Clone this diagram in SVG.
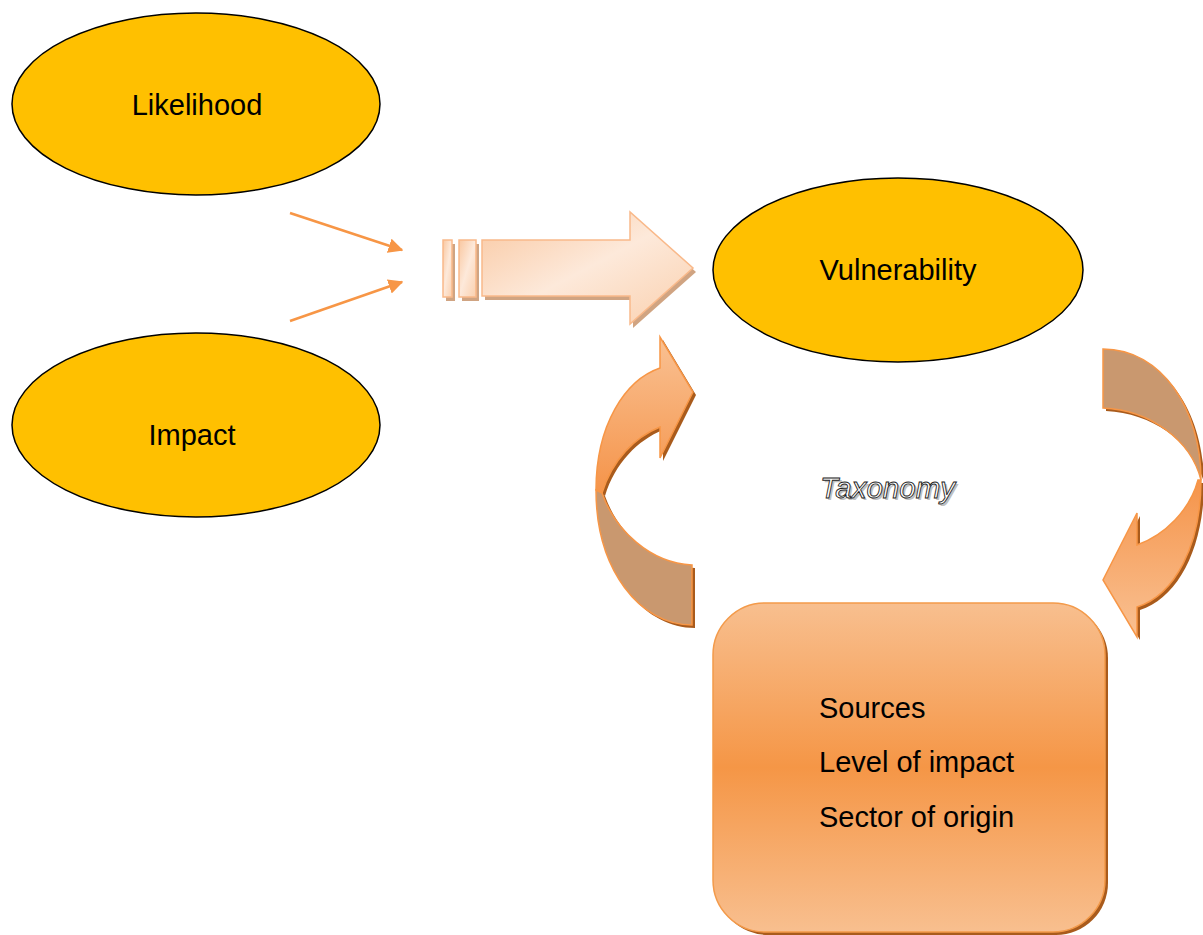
<svg xmlns="http://www.w3.org/2000/svg" width="1203" height="935" viewBox="0 0 1203 935">
<defs>
<style>
.ell{fill:#ffc000;stroke:#000;stroke-width:1.5}
.lbl{font-family:"Liberation Sans",Arial,sans-serif;font-size:29px;fill:#000}
.thin{stroke:#f79646;stroke-width:2.5;fill:none}
.orange{stroke:#f79646;stroke-width:1.5}
.brown{fill:#c9986f;stroke:#f79646;stroke-width:1.5}
.shd{fill:#a95b1c}
</style>
<marker id="ah" viewBox="0 0 10 10" refX="9" refY="5" markerWidth="6" markerHeight="6" orient="auto" markerUnits="strokeWidth">
<path d="M0,0 L10,5 L0,10 Z" fill="#f79646"/>
</marker>
<linearGradient id="bigG" x1="0" y1="0" x2="1" y2="1">
<stop offset="0" stop-color="#f9c7a0"/>
<stop offset="0.5" stop-color="#fde9da"/>
<stop offset="1" stop-color="#fad0ae"/>
</linearGradient>
<linearGradient id="lG" x1="0" y1="0" x2="0" y2="1">
<stop offset="0" stop-color="#f9c193"/>
<stop offset="1" stop-color="#f5944a"/>
</linearGradient>
<linearGradient id="rG" x1="0" y1="0" x2="0" y2="1">
<stop offset="0" stop-color="#f5944a"/>
<stop offset="1" stop-color="#f9c193"/>
</linearGradient>
<linearGradient id="boxG" x1="0" y1="0" x2="0" y2="1">
<stop offset="0" stop-color="#f8bf8f"/>
<stop offset="0.5" stop-color="#f59646"/>
<stop offset="1" stop-color="#f8bf8f"/>
</linearGradient>
</defs>

<g id="likelihood">
<ellipse class="ell" cx="196" cy="104" rx="184" ry="91"/>
<text class="lbl" x="197" y="115" text-anchor="middle">Likelihood</text>
</g>
<g id="impact">
<ellipse class="ell" cx="196" cy="425" rx="184" ry="92"/>
<text class="lbl" x="192" y="445" text-anchor="middle">Impact</text>
</g>
<g id="vulnerability">
<ellipse class="ell" cx="898" cy="270" rx="185" ry="92"/>
<text class="lbl" x="898" y="280" text-anchor="middle">Vulnerability</text>
</g>

<g id="big-arrow">
<g fill="#d0a482" transform="translate(3,4)">
<rect x="443" y="240" width="9" height="57"/>
<rect x="459" y="240" width="17" height="57"/>
<path d="M482,240 L630,240 L630,212 L693,268 L630,324 L630,296 L482,296 Z"/>
</g>
<g fill="url(#bigG)" stroke="#f9b98a" stroke-width="1.5">
<rect x="443" y="240" width="9" height="57"/>
<rect x="459" y="240" width="17" height="57"/>
<path d="M482,240 L630,240 L630,212 L693,268 L630,324 L630,296 L482,296 Z"/>
</g>
</g>

<g id="connectors">
<line class="thin" x1="290" y1="213" x2="402" y2="250" marker-end="url(#ah)"/>
<line class="thin" x1="290" y1="321" x2="402" y2="282" marker-end="url(#ah)"/>
</g>

<g id="left-curved-arrow">
<g class="shd" transform="translate(3,3)">
<path d="M596,490 C596,425 625,380 660,368 L660,337 L693,392 L660,458 L660,427 C635,437 612,460 602,493 Z"/>
<path d="M596,490 C596,570 640,625 692,625 L692,565 C650,563 615,530 602,493 Z"/>
</g>
<path class="orange" fill="url(#lG)" d="M596,490 C596,425 625,380 660,368 L660,337 L693,392 L660,458 L660,427 C635,437 612,460 602,493 Z"/>
<path class="brown" d="M596,490 C596,570 640,625 692,625 L692,565 C650,563 615,530 602,493 Z"/>
</g>

<g id="right-curved-arrow">
<g class="shd" transform="translate(3,3)">
<path d="M1103,349 C1162,349 1201,410 1201,480 C1191,440 1150,410 1103,408 Z"/>
<path d="M1201,480 C1201,545 1175,595 1137,607 L1137,637 L1103,580 L1137,513 L1137,545 C1165,535 1190,510 1198,480 Z"/>
</g>
<path class="brown" d="M1103,349 C1162,349 1201,410 1201,480 C1191,440 1150,410 1103,408 Z"/>
<path class="orange" fill="url(#rG)" d="M1201,480 C1201,545 1175,595 1137,607 L1137,637 L1103,580 L1137,513 L1137,545 C1165,535 1190,510 1198,480 Z"/>
</g>

<g id="taxonomy">
<text x="822" y="500" font-family="Liberation Sans,Arial,sans-serif" font-size="29.5" font-style="italic" fill="#c0c0c0">Taxonomy</text>
<text x="820" y="498" font-family="Liberation Sans,Arial,sans-serif" font-size="29.5" font-style="italic" fill="#fff" stroke="#222" stroke-width="0.9">Taxonomy</text>
</g>

<g id="taxonomy-box">
<rect x="716" y="606" width="392" height="329" rx="52" fill="#a95b1c"/>
<rect x="713" y="603" width="392" height="329" rx="52" fill="url(#boxG)" stroke="#f39a4a" stroke-width="1.5"/>
<text class="lbl" x="819" y="718">Sources</text>
<text class="lbl" x="819" y="772">Level of impact</text>
<text class="lbl" x="819" y="827">Sector of origin</text>
</g>
</svg>
